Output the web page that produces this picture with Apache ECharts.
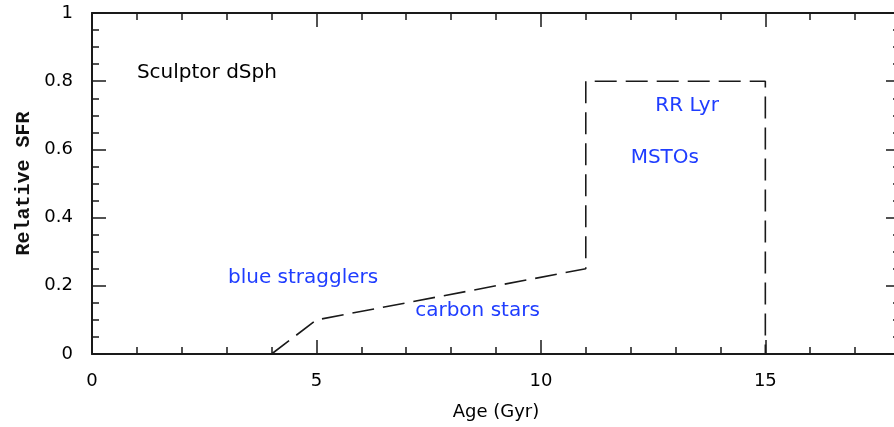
<!DOCTYPE html>
<html>
<head>
<meta charset="utf-8">
<script src="https://cdn.jsdelivr.net/npm/echarts@6/dist/echarts.min.js"></script>
<style>
  html, body { margin: 0; padding: 0; background: #fff; overflow: hidden; }
  #chart { width: 894px; height: 427px; }
</style>
</head>
<body>
<div id="chart"></div>
<script>
// Star-formation history of the Sculptor dwarf spheroidal
const ages = [4, 5, 11, 11, 15, 15];           // Gyr
const relativeSFR = [0, 0.1, 0.25, 0.8, 0.8, 0];

// Annotation texts and the (age, SFR) point where each starts
const noteTexts = ['Sculptor dSph', 'blue stragglers', 'carbon stars', 'RR Lyr', 'MSTOs'];
const noteAges  = [1.0, 3.03, 7.2, 12.55, 12.0];
const noteSFR   = [0.824, 0.223, 0.126, 0.727, 0.575];
const noteIsBlue = [false, true, true, true, true];

const xTicks = [0, 5, 10, 15];
const yTicks = [0, 0.2, 0.4, 0.6, 0.8, 1];

const ink = '#1a1a1a';
const blue = '#1f3dff';
const sans = 'DejaVu Sans, Liberation Sans, Arial, sans-serif';
const labelFont = { fontFamily: sans, fontSize: 18, color: '#000' };

function frameAxis(extra) {
  return Object.assign({
    axisLine: { show: true, onZero: false, lineStyle: { color: ink, width: 2 } },
    axisTick: { show: true, inside: true, length: 14, lineStyle: { color: ink, width: 1.5 } },
    minorTick: { show: true, splitNumber: 5, length: 7, lineStyle: { color: ink, width: 1.5 } },
    splitLine: { show: false },
    minorSplitLine: { show: false }
  }, extra);
}

function tickText(list, digits) {
  return function (v) {
    const r = +(+v).toFixed(digits);
    return list.indexOf(r) >= 0 ? String(r) : '';
  };
}

const chart = echarts.init(document.getElementById('chart'), null, { renderer: 'canvas' });
chart.setOption({
  animation: false,
  backgroundColor: '#fff',
  grid: { left: 92, top: 13, right: -6, bottom: 73, containLabel: false, outerBoundsMode: 'none' },
  xAxis: [
    frameAxis({
      type: 'value', min: 0, max: 18, interval: 5, position: 'bottom',
      name: 'Age (Gyr)', nameLocation: 'middle', nameGap: 49,
      nameTextStyle: { fontFamily: sans, fontSize: 18, color: '#000' },
      axisLabel: Object.assign({ margin: 18, formatter: tickText(xTicks, 0) }, labelFont)
    }),
    frameAxis({
      type: 'value', min: 0, max: 18, interval: 5, position: 'top',
      axisLabel: { show: false }
    })
  ],
  yAxis: [
    frameAxis({
      type: 'value', min: 0, max: 1, interval: 0.2, position: 'left',
      minorTick: { show: true, splitNumber: 4, length: 7, lineStyle: { color: ink, width: 1.5 } },
      name: 'Relative SFR', nameLocation: 'middle', nameGap: 57, nameRotate: 90,
      nameTextStyle: { fontFamily: 'Liberation Mono, DejaVu Sans Mono, monospace', fontSize: 20,
        fontWeight: 'bold', color: '#111' },
      axisLabel: Object.assign({ margin: 19, formatter: tickText(yTicks, 1) }, labelFont)
    }),
    frameAxis({
      type: 'value', min: 0, max: 1, interval: 0.2, position: 'right',
      minorTick: { show: true, splitNumber: 4, length: 7, lineStyle: { color: ink, width: 1.5 } },
      axisLabel: { show: false }
    })
  ],
  series: [
    {
      type: 'line',
      data: ages.map(function (a, i) { return [a, relativeSFR[i]]; }),
      symbol: 'none',
      lineStyle: { color: ink, width: 1.6, type: [22, 9] }
    },
    {
      type: 'scatter',
      symbolSize: 0,
      silent: true,
      itemStyle: { opacity: 1 },
      data: noteTexts.map(function (t, i) {
        return {
          value: [noteAges[i], noteSFR[i]],
          label: {
            show: true, position: [0, 0], align: 'left', verticalAlign: 'middle',
            formatter: t, opacity: 1,
            fontFamily: sans, fontSize: 20,
            color: noteIsBlue[i] ? blue : '#000'
          }
        };
      })
    }
  ]
});
</script>
</body>
</html>
